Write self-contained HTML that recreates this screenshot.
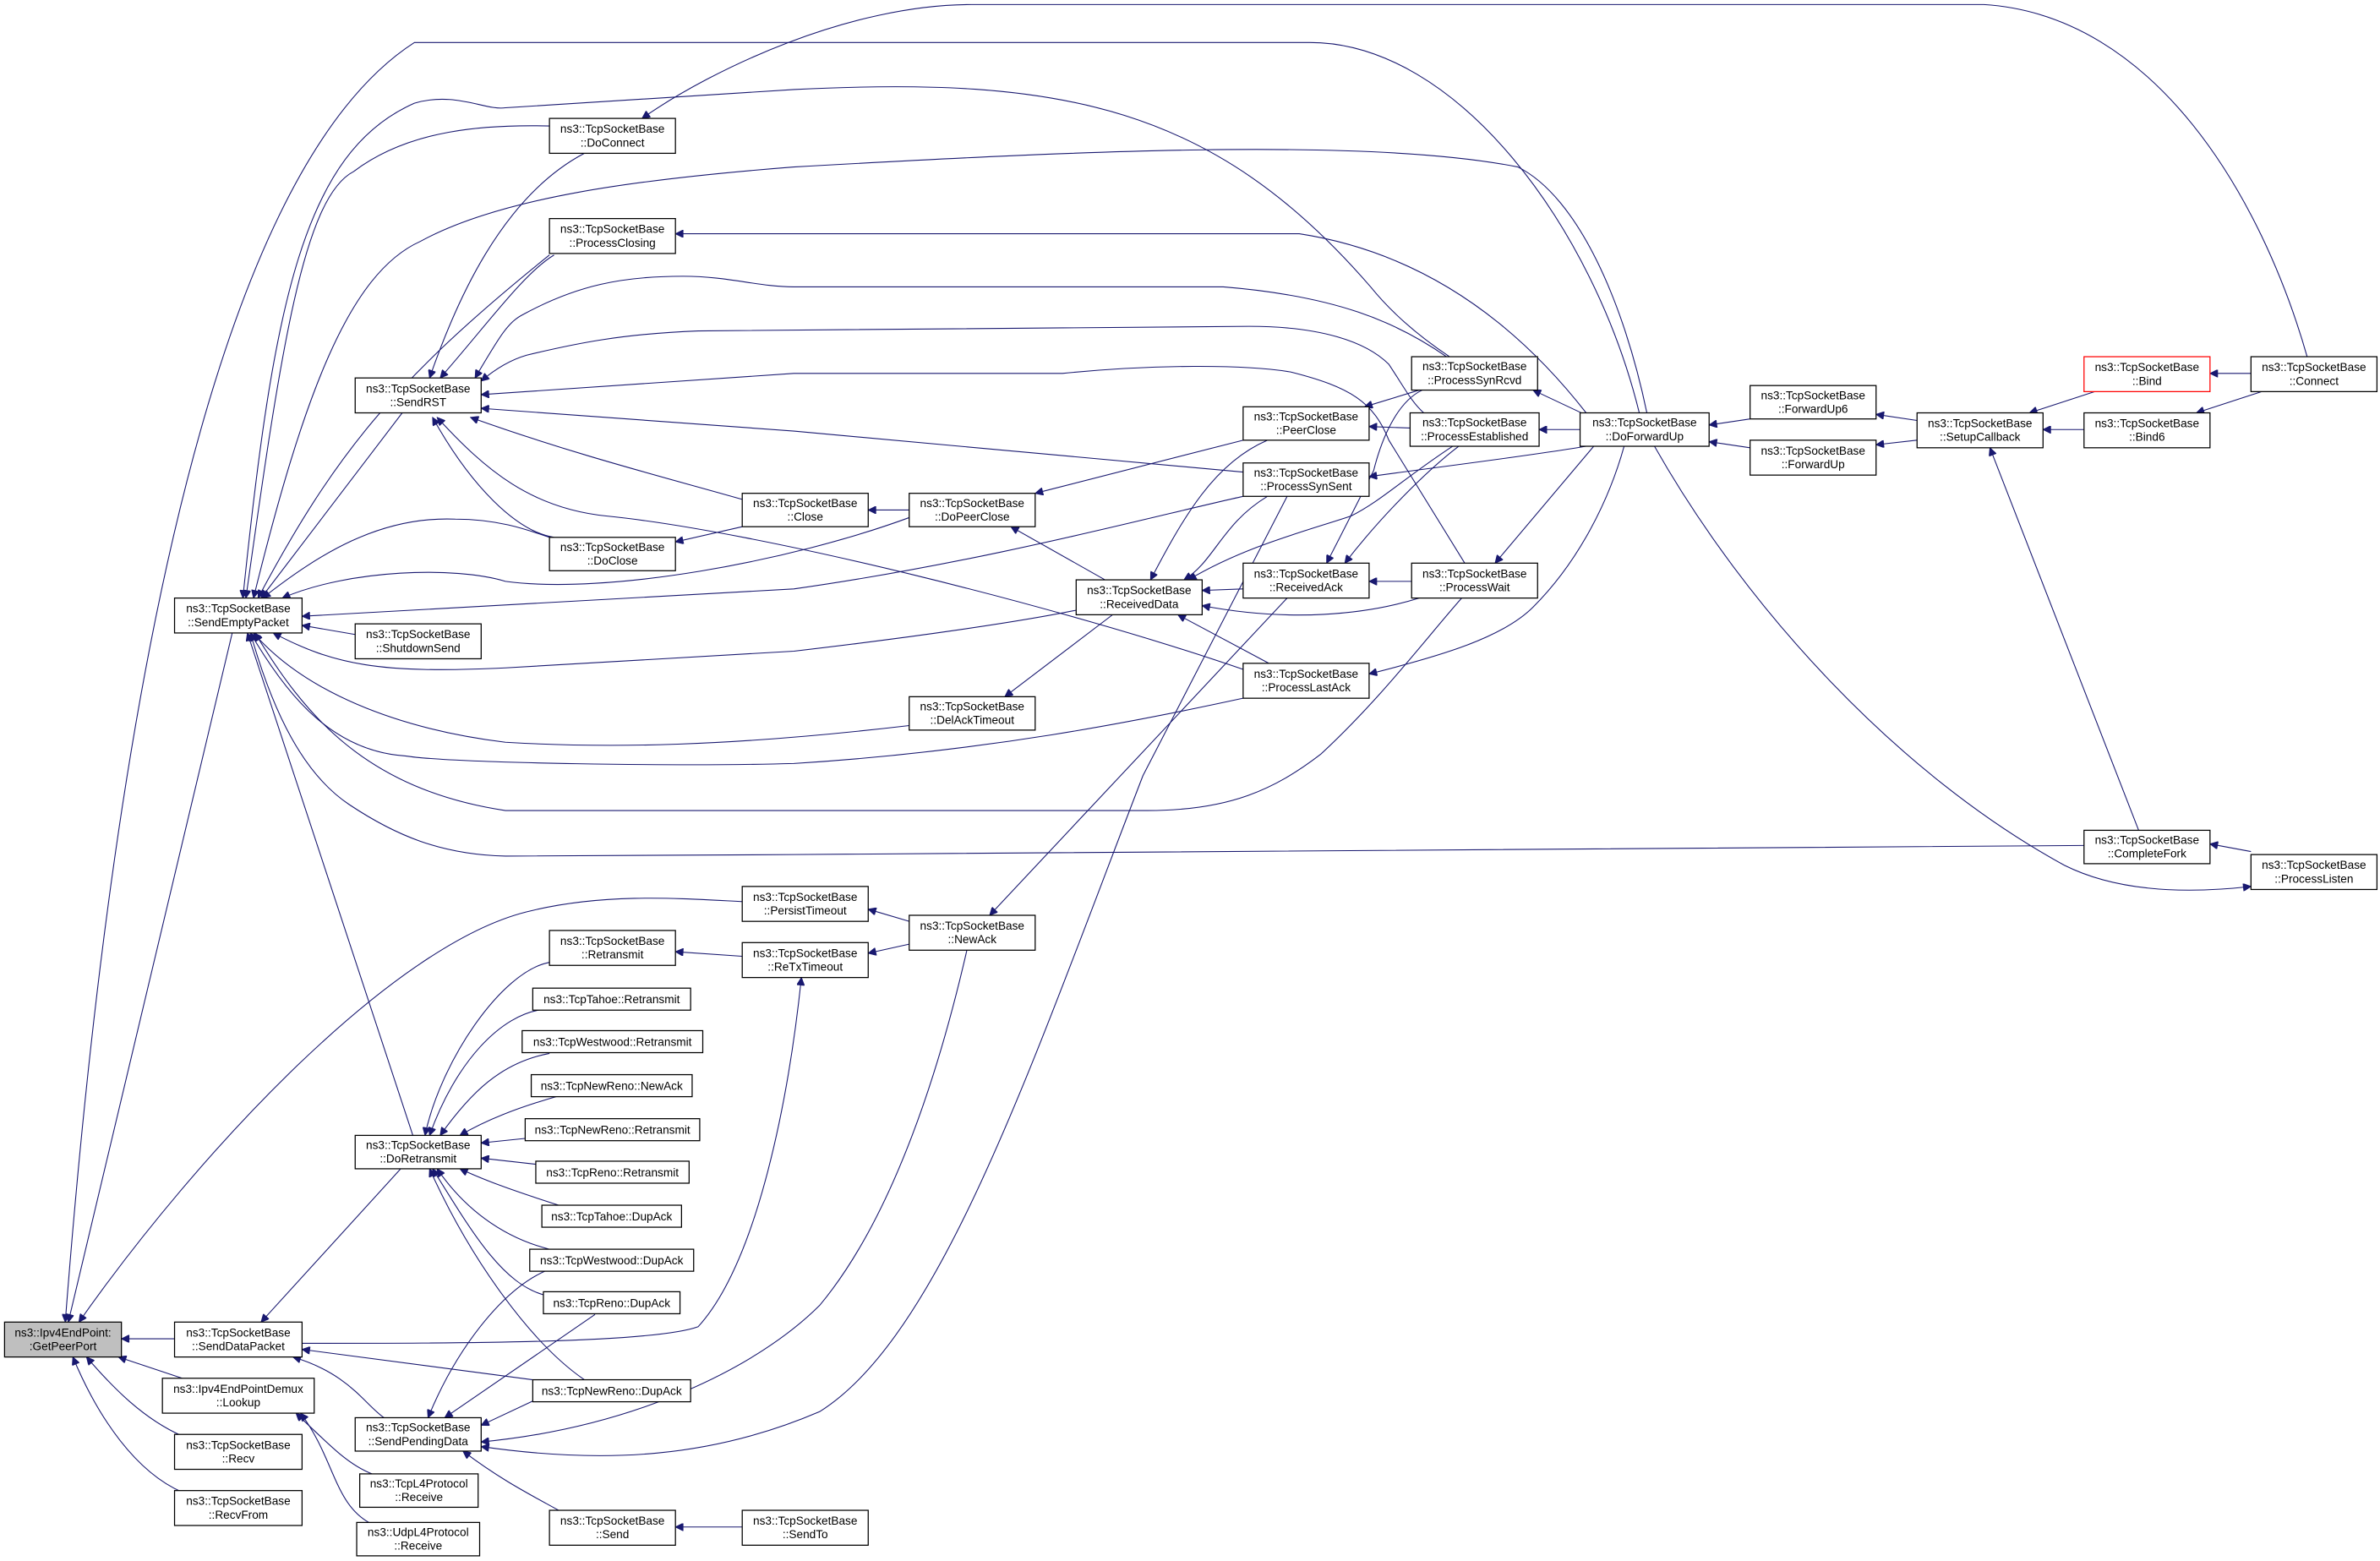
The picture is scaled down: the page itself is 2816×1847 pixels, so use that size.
<!DOCTYPE html>
<html><head><meta charset="utf-8"><style>
html,body{margin:0;padding:0;background:#fff;}
svg{display:block;}
text{font-family:"Liberation Sans",Helvetica,sans-serif;font-size:7.6px;fill:#000;text-anchor:middle;}
.n{fill:#fff;stroke:#000;stroke-width:0.7;}
.e{fill:none;stroke:#191970;stroke-width:0.6;marker-start:url(#ah);}
</style></head><body>
<svg width="2816" height="1847" viewBox="0 0 1568 1028.4" preserveAspectRatio="none" xmlns="http://www.w3.org/2000/svg">
<defs><marker id="ah" viewBox="0 0 10 10" refX="10" refY="5" markerWidth="7" markerHeight="5" markerUnits="userSpaceOnUse" orient="auto-start-reverse"><path d="M0,0 L10,5 L0,10 z" fill="#191970" stroke="#191970"/></marker></defs>
<rect width="1568" height="1028.4" fill="#fff"/>
<g>
<path class="e" d="M43,871 C70,520 130,120 273,28 L863,28 C960,28 1050,150 1080,272"/>
<path class="e" d="M45,871 L153,417"/>
<path class="e" d="M52,871 C130,760 260,620 350,600 C400,588 450,592 489,594"/>
<path class="e" d="M80,882 L115,882"/>
<path class="e" d="M78,894 L120,908"/>
<path class="e" d="M57,894 C75,915 95,935 120,946"/>
<path class="e" d="M48,894 C65,935 90,970 120,983"/>
<path class="e" d="M160,394 C180,200 200,100 273,68 C300,60 320,73 333,71 L523,59 C700,50 800,70 903,189 C920,210 940,225 955,235"/>
<path class="e" d="M162,394 C185,230 200,130 233,113 C270,85 320,82 362,83"/>
<path class="e" d="M167,394 C200,260 230,180 277,159 C330,130 420,118 523,110 C700,100 900,90 1000,110 C1040,130 1070,200 1085,272"/>
<path class="e" d="M170,394 C220,300 260,250 362,168"/>
<path class="e" d="M172,394 L265,272"/>
<path class="e" d="M173,394 C210,365 250,340 300,342 C330,342 350,350 362,354"/>
<path class="e" d="M186,394 C230,375 300,373 333,383 C400,392 520,370 599,341"/>
<path class="e" d="M199,406 L523,388 C650,370 760,340 819,327"/>
<path class="e" d="M199,412 L234,418"/>
<path class="e" d="M180,417 C220,438 250,444 333,440 L523,429 C600,420 670,410 709,402"/>
<path class="e" d="M167,417 C200,455 260,480 333,489 C400,493 480,492 599,478"/>
<path class="e" d="M165,417 C190,460 220,495 267,498 C300,503 450,505 523,503 C650,495 750,475 819,460"/>
<path class="e" d="M163,417 L272,748"/>
<path class="e" d="M165,417 C180,470 200,510 230,530 C260,550 290,563 333,564 L523,563 L1373,557"/>
<path class="e" d="M168,417 C200,470 240,520 333,534 L756,534 C810,534 840,520 870,497 C910,460 940,420 963,394"/>
<path class="e" d="M283,249 C300,200 330,130 385,101"/>
<path class="e" d="M290,249 C320,215 345,180 365,168"/>
<path class="e" d="M313,249 C330,220 335,212 345,207 C380,188 410,182 450,182 C480,182 500,189 523,189 L806,189 C880,195 920,212 953,235"/>
<path class="e" d="M317,251 C330,240 340,236 347,234 C380,226 410,220 460,218 L823,215 C870,215 900,225 915,240 C925,255 930,265 938,272"/>
<path class="e" d="M317,260 L523,246 L700,246 C760,240 820,240 850,245 C890,255 905,265 915,290 L965,371"/>
<path class="e" d="M317,269 L523,284 L819,311"/>
<path class="e" d="M310,275 C380,300 440,315 489,329"/>
<path class="e" d="M288,275 C320,310 350,335 400,340 C500,350 700,400 819,441"/>
<path class="e" d="M285,275 C310,320 340,350 365,354"/>
<path class="e" d="M445,357 L489,347"/>
<path class="e" d="M572,336 L599,336"/>
<path class="e" d="M682,325 L819,290"/>
<path class="e" d="M666,347 L728,382"/>
<path class="e" d="M445,154 L523,154 L856,154 C960,170 1020,240 1045,272"/>
<path class="e" d="M899,268 L935,257"/>
<path class="e" d="M902,281 L929,282"/>
<path class="e" d="M758,382 C780,340 800,305 835,290"/>
<path class="e" d="M780,382 C800,370 805,345 835,327"/>
<path class="e" d="M783,382 C820,360 860,350 890,340 C910,330 925,315 957,294"/>
<path class="e" d="M792,389 L819,388"/>
<path class="e" d="M792,399 C850,410 900,405 935,394"/>
<path class="e" d="M776,405 L836,437"/>
<path class="e" d="M662,459 L733,405"/>
<path class="e" d="M902,383 L930,383"/>
<path class="e" d="M874,371 C890,340 900,320 905,310 C910,290 920,265 937,257"/>
<path class="e" d="M886,371 C910,340 940,310 961,294"/>
<path class="e" d="M1010,257 L1044,273"/>
<path class="e" d="M1014,283 L1041,283"/>
<path class="e" d="M902,314 C960,306 1010,300 1045,294"/>
<path class="e" d="M985,371 L1050,294"/>
<path class="e" d="M902,444 C950,432 990,420 1010,400 C1040,370 1060,330 1070,294"/>
<path class="e" d="M1126,280 L1153,276"/>
<path class="e" d="M1126,291 L1153,295"/>
<path class="e" d="M1236,273 L1263,277"/>
<path class="e" d="M1236,293 L1263,290"/>
<path class="e" d="M1337,272 L1380,258"/>
<path class="e" d="M1346,283 L1373,283"/>
<path class="e" d="M1311,295 L1409,547"/>
<path class="e" d="M1456,246 L1483,246"/>
<path class="e" d="M1447,272 L1490,258"/>
<path class="e" d="M423,78 C470,45 560,3 640,3 L1307,3 C1420,10 1490,130 1520,235"/>
<path class="e" d="M1456,556 L1483,561"/>
<path class="e" d="M1483,584 C1430,590 1390,585 1360,570 C1250,510 1150,400 1090,294"/>
<path class="e" d="M652,603 L848,394"/>
<path class="e" d="M572,599 L599,607"/>
<path class="e" d="M572,628 L599,622"/>
<path class="e" d="M445,627 L489,630"/>
<path class="e" d="M528,644 C520,720 500,830 460,874 C430,885 300,885 199,885"/>
<path class="e" d="M317,950 C420,940 500,900 540,860 C590,800 620,700 637,626"/>
<path class="e" d="M317,953 C400,965 470,960 540,930 C620,880 680,700 753,511 L848,327"/>
<path class="e" d="M317,939 L351,923"/>
<path class="e" d="M293,934 L392,866"/>
<path class="e" d="M282,934 C300,890 330,850 360,837"/>
<path class="e" d="M305,956 C330,975 350,985 368,995"/>
<path class="e" d="M193,894 C230,905 240,925 253,934"/>
<path class="e" d="M199,889 L351,909"/>
<path class="e" d="M172,871 L264,770"/>
<path class="e" d="M280,748 C290,700 330,640 362,634"/>
<path class="e" d="M283,748 C300,700 330,668 358,665"/>
<path class="e" d="M290,748 C310,720 330,700 362,694"/>
<path class="e" d="M303,748 C320,738 340,730 368,722"/>
<path class="e" d="M317,753 L346,750"/>
<path class="e" d="M317,763 L353,767"/>
<path class="e" d="M303,770 C320,778 340,785 368,794"/>
<path class="e" d="M288,770 C305,795 330,815 362,823"/>
<path class="e" d="M285,770 C310,810 330,845 358,853"/>
<path class="e" d="M283,770 C310,830 350,885 385,909"/>
<path class="e" d="M195,931 C220,955 230,965 245,971"/>
<path class="e" d="M198,931 C220,960 220,990 243,1003"/>
<path class="e" d="M445,1006 L489,1006"/>
</g>
<g>
<rect x="3" y="871" width="77" height="23" fill="#bfbfbf" stroke="#000" stroke-width="0.7"/><text x="41.5" y="880.5">ns3::Ipv4EndPoint:</text><text x="41.5" y="889.5">:GetPeerPort</text>
<rect class="n" x="115" y="394" width="84" height="23"/><text x="157" y="403.5">ns3::TcpSocketBase</text><text x="157" y="412.5">::SendEmptyPacket</text>
<rect class="n" x="115" y="871" width="84" height="23"/><text x="157" y="880.5">ns3::TcpSocketBase</text><text x="157" y="889.5">::SendDataPacket</text>
<rect class="n" x="107" y="908" width="100" height="23"/><text x="157" y="917.5">ns3::Ipv4EndPointDemux</text><text x="157" y="926.5">::Lookup</text>
<rect class="n" x="115" y="945" width="84" height="23"/><text x="157" y="954.5">ns3::TcpSocketBase</text><text x="157" y="963.5">::Recv</text>
<rect class="n" x="115" y="982" width="84" height="23"/><text x="157" y="991.5">ns3::TcpSocketBase</text><text x="157" y="1000.5">::RecvFrom</text>
<rect class="n" x="234" y="249" width="83" height="23"/><text x="275.5" y="258.5">ns3::TcpSocketBase</text><text x="275.5" y="267.5">::SendRST</text>
<rect class="n" x="234" y="411" width="83" height="23"/><text x="275.5" y="420.5">ns3::TcpSocketBase</text><text x="275.5" y="429.5">::ShutdownSend</text>
<rect class="n" x="234" y="748" width="83" height="22"/><text x="275.5" y="757">ns3::TcpSocketBase</text><text x="275.5" y="766">::DoRetransmit</text>
<rect class="n" x="234" y="934" width="83" height="22"/><text x="275.5" y="943">ns3::TcpSocketBase</text><text x="275.5" y="952">::SendPendingData</text>
<rect class="n" x="237" y="971" width="78" height="22"/><text x="276" y="980">ns3::TcpL4Protocol</text><text x="276" y="989">::Receive</text>
<rect class="n" x="235" y="1003" width="81" height="22"/><text x="275.5" y="1012">ns3::UdpL4Protocol</text><text x="275.5" y="1021">::Receive</text>
<rect class="n" x="362" y="78" width="83" height="23"/><text x="403.5" y="87.5">ns3::TcpSocketBase</text><text x="403.5" y="96.5">::DoConnect</text>
<rect class="n" x="362" y="144" width="83" height="23"/><text x="403.5" y="153.5">ns3::TcpSocketBase</text><text x="403.5" y="162.5">::ProcessClosing</text>
<rect class="n" x="362" y="354" width="83" height="22"/><text x="403.5" y="363">ns3::TcpSocketBase</text><text x="403.5" y="372">::DoClose</text>
<rect class="n" x="362" y="613" width="83" height="23"/><text x="403.5" y="622.5">ns3::TcpSocketBase</text><text x="403.5" y="631.5">::Retransmit</text>
<rect class="n" x="351" y="651" width="104" height="14.5"/><text x="403" y="661">ns3::TcpTahoe::Retransmit</text>
<rect class="n" x="344" y="679" width="119" height="14.5"/><text x="403.5" y="689">ns3::TcpWestwood::Retransmit</text>
<rect class="n" x="350" y="708" width="106" height="14.5"/><text x="403" y="718">ns3::TcpNewReno::NewAck</text>
<rect class="n" x="346" y="737" width="115" height="14.5"/><text x="403.5" y="747">ns3::TcpNewReno::Retransmit</text>
<rect class="n" x="353" y="765" width="101" height="14.5"/><text x="403.5" y="775">ns3::TcpReno::Retransmit</text>
<rect class="n" x="357" y="794" width="92" height="14.5"/><text x="403" y="804">ns3::TcpTahoe::DupAck</text>
<rect class="n" x="349" y="823" width="108" height="14.5"/><text x="403" y="833">ns3::TcpWestwood::DupAck</text>
<rect class="n" x="358" y="851" width="90" height="14.5"/><text x="403" y="861">ns3::TcpReno::DupAck</text>
<rect class="n" x="351" y="909" width="104" height="14.5"/><text x="403" y="919">ns3::TcpNewReno::DupAck</text>
<rect class="n" x="362" y="995" width="83" height="23"/><text x="403.5" y="1004.5">ns3::TcpSocketBase</text><text x="403.5" y="1013.5">::Send</text>
<rect class="n" x="489" y="325" width="83" height="22"/><text x="530.5" y="334">ns3::TcpSocketBase</text><text x="530.5" y="343">::Close</text>
<rect class="n" x="489" y="584" width="83" height="23"/><text x="530.5" y="593.5">ns3::TcpSocketBase</text><text x="530.5" y="602.5">::PersistTimeout</text>
<rect class="n" x="489" y="621" width="83" height="23"/><text x="530.5" y="630.5">ns3::TcpSocketBase</text><text x="530.5" y="639.5">::ReTxTimeout</text>
<rect class="n" x="489" y="995" width="83" height="23"/><text x="530.5" y="1004.5">ns3::TcpSocketBase</text><text x="530.5" y="1013.5">::SendTo</text>
<rect class="n" x="599" y="325" width="83" height="22"/><text x="640.5" y="334">ns3::TcpSocketBase</text><text x="640.5" y="343">::DoPeerClose</text>
<rect class="n" x="599" y="459" width="83" height="22"/><text x="640.5" y="468">ns3::TcpSocketBase</text><text x="640.5" y="477">::DelAckTimeout</text>
<rect class="n" x="599" y="603" width="83" height="23"/><text x="640.5" y="612.5">ns3::TcpSocketBase</text><text x="640.5" y="621.5">::NewAck</text>
<rect class="n" x="709" y="382" width="83" height="23"/><text x="750.5" y="391.5">ns3::TcpSocketBase</text><text x="750.5" y="400.5">::ReceivedData</text>
<rect class="n" x="819" y="268" width="83" height="22"/><text x="860.5" y="277">ns3::TcpSocketBase</text><text x="860.5" y="286">::PeerClose</text>
<rect class="n" x="819" y="305" width="83" height="22"/><text x="860.5" y="314">ns3::TcpSocketBase</text><text x="860.5" y="323">::ProcessSynSent</text>
<rect class="n" x="819" y="371" width="83" height="23"/><text x="860.5" y="380.5">ns3::TcpSocketBase</text><text x="860.5" y="389.5">::ReceivedAck</text>
<rect class="n" x="819" y="437" width="83" height="23"/><text x="860.5" y="446.5">ns3::TcpSocketBase</text><text x="860.5" y="455.5">::ProcessLastAck</text>
<rect class="n" x="930" y="235" width="83" height="22"/><text x="971.5" y="244">ns3::TcpSocketBase</text><text x="971.5" y="253">::ProcessSynRcvd</text>
<rect class="n" x="929" y="272" width="85" height="22"/><text x="971.5" y="281">ns3::TcpSocketBase</text><text x="971.5" y="290">::ProcessEstablished</text>
<rect class="n" x="930" y="371" width="83" height="23"/><text x="971.5" y="380.5">ns3::TcpSocketBase</text><text x="971.5" y="389.5">::ProcessWait</text>
<rect class="n" x="1041" y="272" width="85" height="22"/><text x="1083.5" y="281">ns3::TcpSocketBase</text><text x="1083.5" y="290">::DoForwardUp</text>
<rect class="n" x="1153" y="254" width="83" height="22"/><text x="1194.5" y="263">ns3::TcpSocketBase</text><text x="1194.5" y="272">::ForwardUp6</text>
<rect class="n" x="1153" y="290" width="83" height="23"/><text x="1194.5" y="299.5">ns3::TcpSocketBase</text><text x="1194.5" y="308.5">::ForwardUp</text>
<rect class="n" x="1263" y="272" width="83" height="23"/><text x="1304.5" y="281.5">ns3::TcpSocketBase</text><text x="1304.5" y="290.5">::SetupCallback</text>
<rect x="1373" y="235" width="83" height="23" fill="#fff" stroke="#ff0000" stroke-width="0.7"/><text x="1414.5" y="244.5">ns3::TcpSocketBase</text><text x="1414.5" y="253.5">::Bind</text>
<rect class="n" x="1373" y="272" width="83" height="23"/><text x="1414.5" y="281.5">ns3::TcpSocketBase</text><text x="1414.5" y="290.5">::Bind6</text>
<rect class="n" x="1483" y="235" width="83" height="23"/><text x="1524.5" y="244.5">ns3::TcpSocketBase</text><text x="1524.5" y="253.5">::Connect</text>
<rect class="n" x="1373" y="547" width="83" height="22"/><text x="1414.5" y="556">ns3::TcpSocketBase</text><text x="1414.5" y="565">::CompleteFork</text>
<rect class="n" x="1483" y="563" width="83" height="23"/><text x="1524.5" y="572.5">ns3::TcpSocketBase</text><text x="1524.5" y="581.5">::ProcessListen</text>
</g>
</svg>
</body></html>
